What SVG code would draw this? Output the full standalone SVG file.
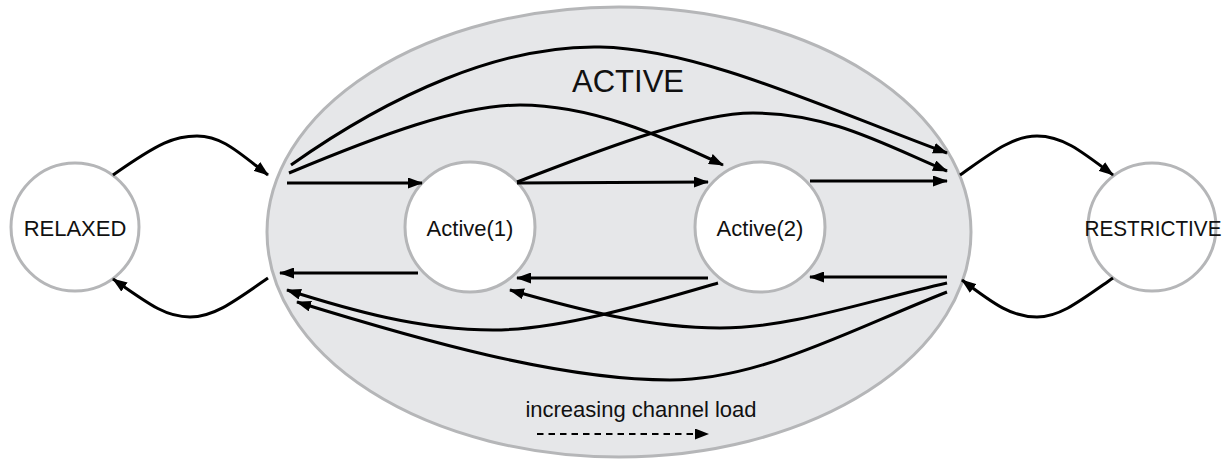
<svg xmlns="http://www.w3.org/2000/svg" width="1231" height="459" viewBox="0 0 1231 459">
<style>
.state{fill:#fff;stroke:#b5b6b8;stroke-width:3}
.outer{fill:#e6e7e9;stroke:#b5b6b8;stroke-width:3}
.lbl{font-family:"Liberation Sans",Arial,sans-serif;fill:#111;text-anchor:middle}
.edge{fill:none;stroke:#000;stroke-width:3;marker-end:url(#ah)}
.dash{fill:none;stroke:#000;stroke-width:1.8;stroke-dasharray:6.5 5;marker-end:url(#ah2)}
</style>
<defs>
<marker id="ah" markerUnits="userSpaceOnUse" markerWidth="15" markerHeight="11" refX="14" refY="5.5" orient="auto">
<path d="M0,0 L15,5.5 L0,11 z" fill="#000"/>
</marker>
<marker id="ah2" markerUnits="userSpaceOnUse" markerWidth="14" markerHeight="11" refX="13" refY="5.5" orient="auto">
<path d="M0,0 L14,5.5 L0,11 z" fill="#000"/>
</marker>
</defs>
<g id="active">
<ellipse class="outer" cx="619" cy="232" rx="352" ry="225"/>
<text class="lbl" x="628" y="92" font-size="31">ACTIVE</text>
</g>
<g id="relaxed">
<circle class="state" cx="75" cy="227" r="64"/>
<text class="lbl" x="75" y="236" font-size="22">RELAXED</text>
</g>
<g id="restrictive">
<circle class="state" cx="1152" cy="227" r="64"/>
<text class="lbl" x="1153" y="236" font-size="22" textLength="137" lengthAdjust="spacingAndGlyphs">RESTRICTIVE</text>
</g>
<g id="active1">
<circle class="state" cx="470" cy="227" r="65"/>
<text class="lbl" x="470" y="236" font-size="22">Active(1)</text>
</g>
<g id="active2">
<circle class="state" cx="760" cy="227" r="65"/>
<text class="lbl" x="760" y="236" font-size="22">Active(2)</text>
</g>
<g id="legend">
<text class="lbl" x="641" y="417" font-size="22">increasing channel load</text>
<path class="dash" d="M537,434 L708,434"/>
</g>
<g id="connectors">
<path class="edge" d="M113,175 C160,142 175,136 197,136 C222,136 238,152 268,175"/>
<path class="edge" d="M268,278 C235,301 214,317 190,317 C166,317 150,305 113,279"/>
<path class="edge" d="M960,175 C990,154 1012,136 1037,136 C1062,136 1080,150 1113,175"/>
<path class="edge" d="M1113,278 C1080,301 1060,317 1037,317 C1012,317 995,305 962,280"/>
<path class="edge" d="M287,183 L422,183"/>
<path class="edge" d="M517,183 L708,182"/>
<path class="edge" d="M810,181 L947,181"/>
<path class="edge" d="M291,165 C390,95 500,45 600,47 C700,49 825,108 947,153"/>
<path class="edge" d="M289,173 C380,135 460,105 520,105 C590,105 660,135 723,165"/>
<path class="edge" d="M517,182 C580,158 690,113 753,113 C830,113 885,145 947,171"/>
<path class="edge" d="M418,273 L280,273"/>
<path class="edge" d="M708,278 L517,278"/>
<path class="edge" d="M947,277 L810,277"/>
<path class="edge" d="M718,283 C650,303 560,330 493,330 C420,330 350,310 287,290"/>
<path class="edge" d="M947,283 C860,303 790,328 720,328 C650,328 580,310 510,290"/>
<path class="edge" d="M947,292 C850,330 760,380 670,380 C560,380 420,340 297,302"/>
</g>
</svg>
